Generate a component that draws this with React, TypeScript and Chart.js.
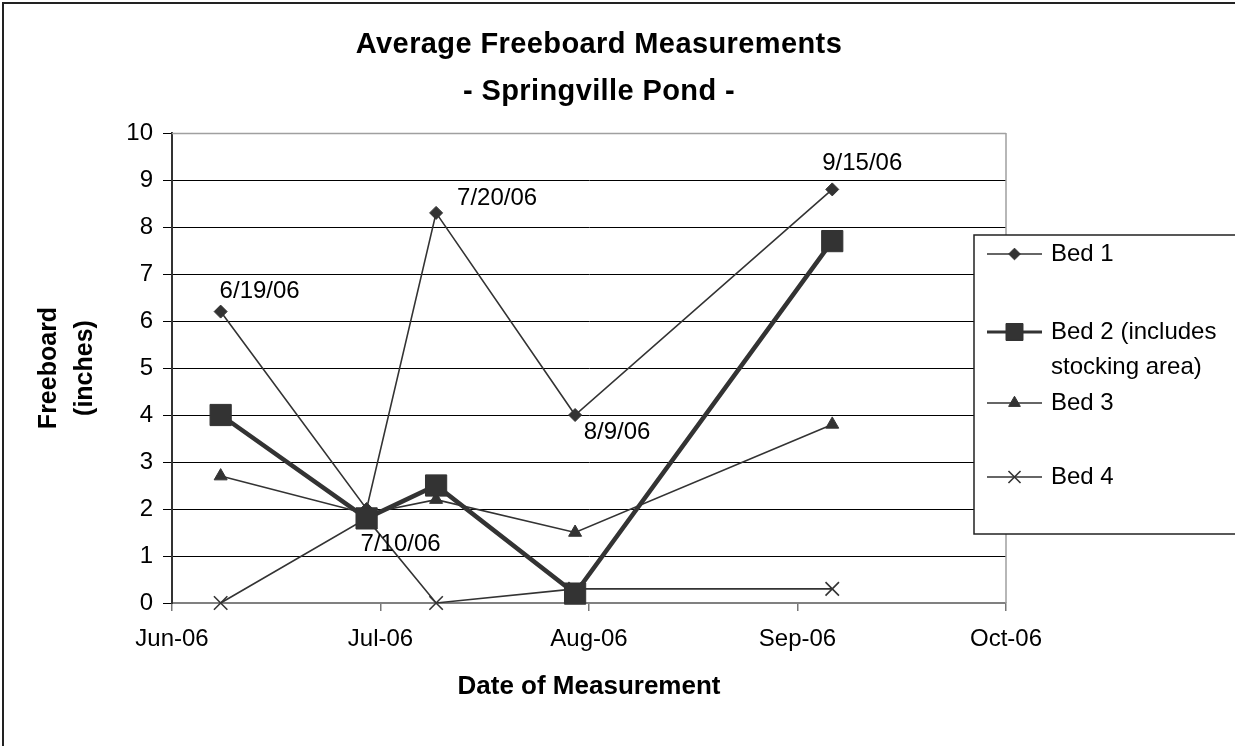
import React, { useEffect, useRef } from "react";
import { Chart, registerables } from "chart.js";
import { drawPoint } from "chart.js/helpers";

Chart.register(...registerables);

// ---------- data ----------
const measurementDates = ["6/19/06", "7/10/06", "7/20/06", "8/9/06", "9/15/06"];
const bed1 = [6.2, 2.0, 8.3, 4.0, 8.8];
const bed2 = [4.0, 1.8, 2.5, 0.2, 7.7];
const bed3 = [2.7, 1.9, 2.2, 1.5, 3.8];
const bed4 = [0, 1.8, 0, 0.3, 0.3];
const seriesNames = ["Bed 1", "Bed 2 (includes stocking area)", "Bed 3", "Bed 4"];
const xTickLabels = ["Jun-06", "Jul-06", "Aug-06", "Sep-06", "Oct-06"];
const xAxisStartDate = "6/12/06";
const xTickStepDays = 30;
const yMin = 0;
const yMax = 10;
const yStep = 1;
const titleLines = ["Average Freeboard Measurements", "- Springville Pond -"];
const xAxisTitle = "Date of Measurement";
const yAxisTitle = ["Freeboard", "(inches)"];

// ---------- styling ----------
const FONT = "'Liberation Sans', Arial, Helvetica, sans-serif";
const INK = "#333333";
const labelOffsets: [number, number][] = [
  [39, -20],
  [34, 35],
  [61, -15],
  [42, 17],
  [30, -26],
];
const titleStyle = { centerX: 599, firstY: 45, gap: 47, size: 29, spacing: "0.4px" };
const legendStyle = {
  x: 974,
  y: 235,
  h: 299,
  lineX0: 987,
  lineX1: 1042,
  textX: 1051,
  textMax: 180,
  lineGap: 35,
  rowY: [254, 332, 403, 477],
};

function dayNumber(s: string): number {
  const [m, d, y] = s.split("/").map(Number);
  return Date.UTC(2000 + y, m - 1, d) / 86400000;
}

const xValues = measurementDates.map(dayNumber);
const xMin = dayNumber(xAxisStartDate);
const xMax = xMin + xTickStepDays * (xTickLabels.length - 1);

const toPoints = (vals: number[]) => vals.map((v, i) => ({ x: xValues[i], y: v }));

const seriesStyles = [
  { pointStyle: "rectRot", radius: 6.5, lineWidth: 1.6, order: 1 },
  { pointStyle: "rect", radius: 15, lineWidth: 4.5, order: 0 },
  { pointStyle: "triangle", radius: 7.5, lineWidth: 1.6, order: 2 },
  { pointStyle: "crossRot", radius: 9.5, lineWidth: 1.6, order: 3 },
];
const seriesValues = [bed1, bed2, bed3, bed4];

const outerBorderPlugin = {
  id: "outerBorder",
  afterDraw(chart: any) {
    const ctx = chart.ctx;
    ctx.save();
    ctx.strokeStyle = "#222";
    ctx.lineWidth = 2;
    ctx.beginPath();
    ctx.moveTo(3, chart.height + 5);
    ctx.lineTo(3, 3);
    ctx.lineTo(chart.width + 5, 3);
    ctx.stroke();
    ctx.restore();
  },
};

const plotBorderPlugin = {
  id: "plotBorder",
  beforeDatasetsDraw(chart: any) {
    const { ctx, chartArea } = chart;
    ctx.save();
    ctx.strokeStyle = "#a0a0a0";
    ctx.lineWidth = 1.5;
    ctx.beginPath();
    ctx.moveTo(chartArea.left, chartArea.top + 0.5);
    ctx.lineTo(chartArea.right, chartArea.top + 0.5);
    ctx.moveTo(chartArea.right, chartArea.top);
    ctx.lineTo(chartArea.right, chartArea.bottom);
    ctx.stroke();
    ctx.restore();
  },
};

const titlePlugin = {
  id: "twoLineTitle",
  afterDraw(chart: any) {
    const ctx = chart.ctx;
    ctx.save();
    ctx.font = `bold ${titleStyle.size}px ${FONT}`;
    (ctx as any).letterSpacing = titleStyle.spacing;
    ctx.fillStyle = "#000";
    ctx.textAlign = "center";
    ctx.textBaseline = "middle";
    titleLines.forEach((line, i) => {
      ctx.fillText(line, titleStyle.centerX, titleStyle.firstY + i * titleStyle.gap);
    });
    ctx.restore();
  },
};

const dateLabelPlugin = {
  id: "dateLabels",
  afterDatasetsDraw(chart: any) {
    const ctx = chart.ctx;
    const xs = chart.scales.x;
    const ys = chart.scales.y;
    ctx.save();
    ctx.font = `24px ${FONT}`;
    ctx.fillStyle = "#000";
    ctx.textAlign = "center";
    ctx.textBaseline = "middle";
    measurementDates.forEach((d, i) => {
      const px = xs.getPixelForValue(xValues[i]);
      const py = ys.getPixelForValue(bed1[i]);
      const [dx, dy] = labelOffsets[i];
      ctx.fillText(d, px + dx, py + dy);
    });
    ctx.restore();
  },
};

function wrapText(ctx: CanvasRenderingContext2D, text: string, maxW: number): string[] {
  const words = text.split(" ");
  const lines: string[] = [];
  let cur = "";
  for (const w of words) {
    const test = cur ? cur + " " + w : w;
    if (ctx.measureText(test).width > maxW && cur) {
      lines.push(cur);
      cur = w;
    } else {
      cur = test;
    }
  }
  if (cur) lines.push(cur);
  return lines;
}

const legendPlugin = {
  id: "boxLegend",
  afterDraw(chart: any) {
    const ctx = chart.ctx;
    const L = legendStyle;
    ctx.save();
    ctx.fillStyle = "#fff";
    ctx.fillRect(L.x, L.y, chart.width - L.x + 20, L.h);
    ctx.strokeStyle = "#222";
    ctx.lineWidth = 1.5;
    ctx.strokeRect(L.x, L.y, chart.width - L.x + 20, L.h);
    ctx.font = `24px ${FONT}`;
    chart.data.datasets.forEach((ds: any, i: number) => {
      const y = L.rowY[i];
      ctx.strokeStyle = ds.borderColor;
      ctx.fillStyle = ds.backgroundColor;
      ctx.lineWidth = Math.min(ds.borderWidth, 3);
      ctx.beginPath();
      ctx.moveTo(L.lineX0, y);
      ctx.lineTo(L.lineX1, y);
      ctx.stroke();
      ctx.lineWidth = ds.pointBorderWidth;
      const r = ds.pointStyle === "rect" ? ds.pointRadius * 0.8 : ds.pointRadius * 0.9;
      drawPoint(ctx, { pointStyle: ds.pointStyle, radius: r, rotation: 0, borderWidth: ds.pointBorderWidth } as any, (L.lineX0 + L.lineX1) / 2, y);
      ctx.fillStyle = "#000";
      ctx.textAlign = "left";
      ctx.textBaseline = "middle";
      const lines = wrapText(ctx, ds.label, L.textMax);
      lines.forEach((ln, k) => ctx.fillText(ln, L.textX, y + k * L.lineGap));
    });
    ctx.restore();
  },
};

export default function App() {
  const ref = useRef<HTMLCanvasElement>(null);
  useEffect(() => {
    const canvas = ref.current;
    if (!canvas) return;
    const datasets = seriesValues.map((vals, i) => ({
      label: seriesNames[i],
      data: toPoints(vals),
      borderColor: INK,
      backgroundColor: INK,
      borderWidth: seriesStyles[i].lineWidth,
      pointStyle: seriesStyles[i].pointStyle,
      pointRadius: seriesStyles[i].radius,
      pointBorderWidth: seriesStyles[i].pointStyle === "crossRot" ? 1.6 : 1,
      pointBackgroundColor: INK,
      pointBorderColor: INK,
      tension: 0,
      clip: false as any,
      order: seriesStyles[i].order,
    }));
    const chart = new Chart(canvas, {
      type: "line",
      data: { datasets },
      options: {
        animation: false,
        responsive: false,
        devicePixelRatio: 1,
        layout: { padding: { left: 3, top: 133, right: 229, bottom: 0 } },
        plugins: {
          legend: { display: false },
          title: { display: false },
          tooltip: { enabled: false },
        },
        scales: {
          x: {
            type: "linear",
            min: xMin,
            max: xMax,
            afterFit: (s: any) => {
              s.height = 143;
            },
            ticks: {
              stepSize: xTickStepDays,
              autoSkip: false,
              maxRotation: 0,
              padding: 14,
              color: "#000",
              font: { family: FONT, size: 24 },
              callback: (_v: any, idx: number) => xTickLabels[idx],
            },
            grid: {
              drawOnChartArea: false,
              drawTicks: true,
              tickLength: 8,
              color: "#777",
              lineWidth: 1.5,
            },
            border: { display: true, color: "#808080", width: 2 },
            title: {
              display: true,
              text: xAxisTitle,
              color: "#000",
              font: { family: FONT, size: 26, weight: "bold", lineHeight: 1.2 },
              padding: { top: 0, bottom: 43.4 },
            },
          },
          y: {
            type: "linear",
            min: yMin,
            max: yMax,
            afterFit: (s: any) => {
              s.width = 169;
            },
            ticks: {
              stepSize: yStep,
              padding: 10,
              color: "#000",
              font: { family: FONT, size: 24 },
            },
            grid: {
              color: (c: any) =>
                c.tick && (c.tick.value === yMax || c.tick.value === yMin) ? "#a0a0a0" : "#000",
              tickColor: "#000",
              lineWidth: 1,
              tickLength: 9,
            },
            border: { display: true, color: "#333", width: 2 },
            title: {
              display: true,
              text: yAxisTitle,
              color: "#000",
              font: { family: FONT, size: 25, weight: "bold", lineHeight: 1.44 },
              padding: { top: 28, bottom: 0 },
            },
          },
        },
      } as any,
      plugins: [plotBorderPlugin, dateLabelPlugin, legendPlugin, titlePlugin, outerBorderPlugin],
    });
    return () => chart.destroy();
  }, []);
  return (
    <div style={{ position: "fixed", left: 0, top: 0, width: 1235, height: 746, background: "#fff" }}>
      <canvas ref={ref} width={1235} height={746} style={{ display: "block", width: 1235, height: 746 }} />
    </div>
  );
}
